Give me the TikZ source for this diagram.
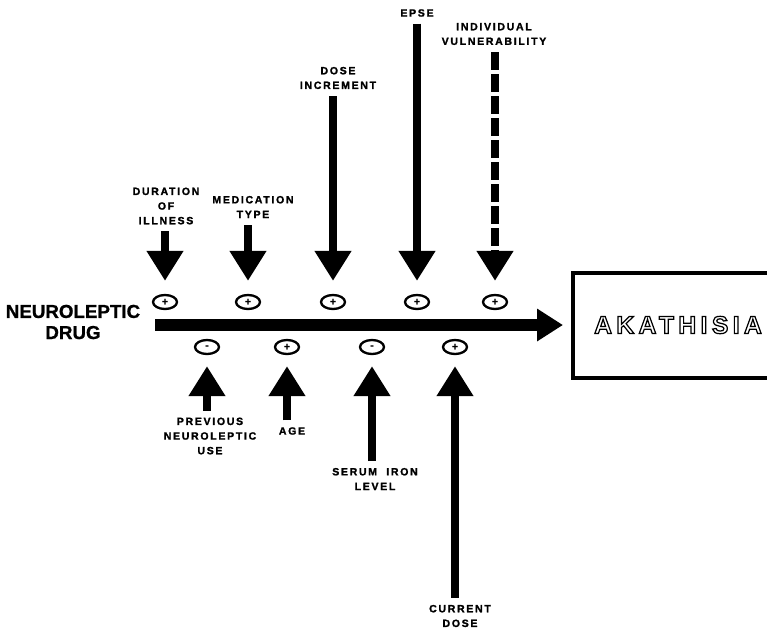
\documentclass[tikz,border=0pt]{standalone}
\usepackage{fontspec}
\setmainfont{Liberation Sans}
\newfontfamily\labfont[LetterSpace=16,FakeBold=1.5]{Liberation Sans Bold}
\newfontfamily\drugfont[FakeBold=1]{Liberation Sans Bold}
\newfontfamily\boxfont[LetterSpace=18,FakeBold=5]{Liberation Sans Bold}
\usetikzlibrary{shapes,arrows.meta,positioning}
\tikzstyle{lbl} = [font=\labfont\fontsize{9}{12.5}\selectfont,align=center,inner sep=0pt,outer sep=0.21cm]
\tikzstyle{sign} = [draw,ellipse,line width=0.07cm,minimum width=0.72cm,minimum height=0.42cm,inner sep=0pt,font=\drugfont\fontsize{9}{9}\selectfont]
\tikzstyle{factor} = [line width=0.24cm,-{Triangle[length=0.9cm,width=1.05cm]}]
\tikzstyle{drugline} = [line width=0.36cm,-{Triangle[length=0.78cm,width=0.93cm]}]
\def \px {0.03cm}
\def \hollow #1{\special{pdf:bcolor [1] [0]}#1\special{pdf:ecolor}}

\begin{document}
\begin{tikzpicture}[x=\px,y=-\px]
      \useasboundingbox (0,0) rectangle (767,630);
      % drug and effect
      \node[font=\drugfont\fontsize{16}{18}\selectfont,align=center,inner sep=0pt] (drug) at (73,322) {NEUROLEPTIC\\DRUG};
      \node[draw,line width=0.12cm,anchor=west,minimum width=6.3cm,minimum height=3.15cm,font=\boxfont\fontsize{21}{24}\selectfont] (aka) at (571,325) {\hollow{AKATHISIA}};
      \draw[drugline,shorten <=0.45cm,shorten >=0.24cm] (drug.east |- aka.west) -- (aka.west);
      % signs above
      \node[sign] (sdur) at (165,302) {+};
      \node[sign] (smed) at (248,302) {+};
      \node[sign] (sdose) at (333,302) {+};
      \node[sign] (sepse) at (417,302) {+};
      \node[sign] (svul) at (495,302) {+};
      % signs below
      \node[sign] (sprev) at (207,347) {-};
      \node[sign] (sage) at (287,347) {+};
      \node[sign] (siron) at (372,347) {-};
      \node[sign] (scur) at (455,347) {+};
      % factors above
      \node[lbl] (dur) at (166,206) {DURATION\\OF\\ILLNESS};
      \node[lbl] (med) at (253,207) {MEDICATION\\TYPE};
      \node[lbl] (dose) at (338,78) {DOSE\\INCREMENT};
      \node[lbl] (epse) at (417,13) {EPSE};
      \node[lbl] (vul) at (494,34) {INDIVIDUAL\\VULNERABILITY};
      \draw[factor,shorten >=0.39cm] (dur.south -| sdur) -- (sdur);
      \draw[factor,shorten >=0.39cm] (med.south -| smed) -- (smed);
      \draw[factor,shorten >=0.39cm] (dose.south -| sdose) -- (sdose);
      \draw[factor,shorten >=0.39cm] (epse.south -| sepse) -- (sepse);
      \draw[factor,dash pattern=on 0.54cm off 0.12cm,shorten >=0.39cm] (vul.south -| svul) -- (svul);
      % factors below
      \node[lbl] (prev) at (210,436) {PREVIOUS\\NEUROLEPTIC\\USE};
      \node[lbl] (age) at (292,431) {AGE};
      \node[lbl] (iron) at (375,479) {SERUM\ \ IRON\\LEVEL};
      \node[lbl] (cur) at (460,616) {CURRENT\\DOSE};
      \draw[factor,shorten >=0.33cm] (prev.north -| sprev) -- (sprev);
      \draw[factor,shorten >=0.33cm] (age.north -| sage) -- (sage);
      \draw[factor,shorten >=0.33cm] (iron.north -| siron) -- (siron);
      \draw[factor,shorten >=0.33cm] (cur.north -| scur) -- (scur);
    \end{tikzpicture}
\end{document}
